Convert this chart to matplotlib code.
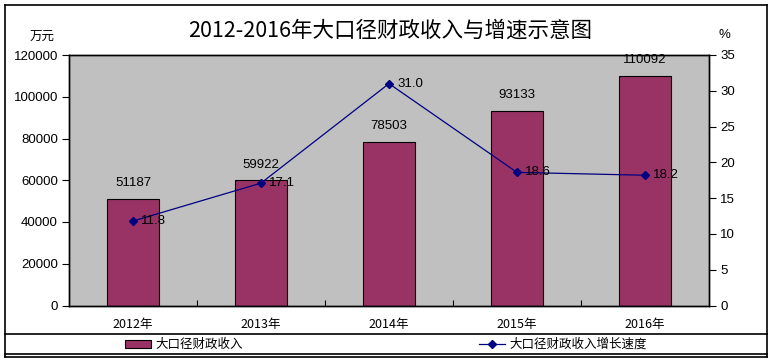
import matplotlib
matplotlib.use("Agg")
import matplotlib.pyplot as plt
from matplotlib.lines import Line2D
from matplotlib.patches import Rectangle

years = ["2012年", "2013年", "2014年", "2015年", "2016年"]
revenue = [51187, 59922, 78503, 93133, 110092]
growth = [11.8, 17.1, 31.0, 18.6, 18.2]

W, H = 774, 364
cjk = ["Noto Sans CJK SC", "DejaVu Sans"]
num = ["Liberation Sans", "DejaVu Sans"]

fig = plt.figure(figsize=(W / 100, H / 100), dpi=100)

def fx(px):
    return px / W

def fy(py):
    return 1 - py / H

# plot area in pixels
left, right, top, bottom = 69, 709, 55, 305.5
ax = fig.add_axes([fx(left), fy(bottom), fx(right - left), (bottom - top) / H])
ax.set_facecolor("#C0C0C0")

x = list(range(len(years)))
bars = ax.bar(x, revenue, width=0.41, color="#993366", edgecolor="black",
              linewidth=0.8, zorder=2)
ax.set_xlim(-0.5, len(years) - 0.5)
ax.set_ylim(0, 120000)
ax.set_yticks(range(0, 120001, 20000))
ax.set_yticklabels([str(v) for v in range(0, 120001, 20000)], fontfamily=num, fontsize=9.5)
ax.set_xticks(x)
ax.set_xticklabels(years, fontfamily=cjk, fontsize=9)
ax.set_xticks([i + 0.5 for i in range(len(years) - 1)], minor=True)
ax.tick_params(axis="x", which="major", length=0, pad=9)
ax.tick_params(axis="x", which="minor", direction="in", length=4, width=0.8)
ax.tick_params(axis="y", direction="out", length=5, width=0.8, pad=3)
for s in ax.spines.values():
    s.set_linewidth(1.0)

for b, v in zip(bars, revenue):
    ax.annotate(str(v), (b.get_x() + b.get_width() / 2, v), xytext=(0, 7),
                textcoords="offset points", ha="center", va="bottom",
                fontfamily=num, fontsize=9.5)

ax2 = ax.twinx()
ax2.plot(x, growth, color="#000080", linewidth=0.9, marker="D", markersize=4,
         zorder=3)
ax2.set_ylim(0, 35)
ax2.set_yticks(range(0, 36, 5))
ax2.set_yticklabels([str(v) for v in range(0, 36, 5)], fontfamily=num, fontsize=9.5)
ax2.tick_params(axis="y", direction="out", length=5, width=0.8, pad=3)
for s in ax2.spines.values():
    s.set_linewidth(1.0)
for xi, g in zip(x, growth):
    ax2.annotate(f"{g:.1f}", (xi, g), xytext=(6, 0), textcoords="offset points",
                 ha="left", va="center", fontfamily=num, fontsize=9.5)

# title and unit labels
fig.text(fx(390), fy(31), "2012-2016年大口径财政收入与增速示意图", ha="center",
         va="center", fontfamily=cjk, fontsize=15.5, fontweight="medium")
fig.text(fx(42), fy(37), "万元", ha="center", va="center", fontfamily=cjk, fontsize=9)
fig.text(fx(724), fy(35), "%", ha="center", va="center", fontfamily=num, fontsize=9.5)

# outer frame
lk = dict(color="black", linewidth=1.2, transform=fig.transFigure)
fig.add_artist(Line2D([fx(5), fx(767)], [fy(5), fy(5)], **lk))
fig.add_artist(Line2D([fx(5), fx(5)], [fy(5), fy(357)], **lk))
fig.add_artist(Line2D([fx(767), fx(767)], [fy(5), fy(357)], **lk))
fig.add_artist(Line2D([fx(5), fx(767)], [fy(334), fy(334)], **lk))
fig.add_artist(Line2D([fx(5), fx(767)], [fy(354), fy(354)], **lk))
fig.add_artist(Line2D([fx(5), fx(767)], [fy(357), fy(357)], **lk))

# legend row
fig.add_artist(Rectangle((fx(125), fy(348)), fx(26), 8 / H, facecolor="#993366",
                         edgecolor="black", linewidth=0.8, transform=fig.transFigure))
fig.text(fx(155), fy(344), "大口径财政收入", ha="left", va="center",
         fontfamily=cjk, fontsize=9)
fig.add_artist(Line2D([fx(479), fx(505)], [fy(344), fy(344)], color="#000080",
                      linewidth=0.9, transform=fig.transFigure))
fig.add_artist(Line2D([fx(492)], [fy(344)], color="#000080", marker="D",
                      markersize=4, linestyle="none", transform=fig.transFigure))
fig.text(fx(509), fy(344), "大口径财政收入增长速度", ha="left", va="center",
         fontfamily=cjk, fontsize=9)

fig.savefig("out.png", dpi=100)
